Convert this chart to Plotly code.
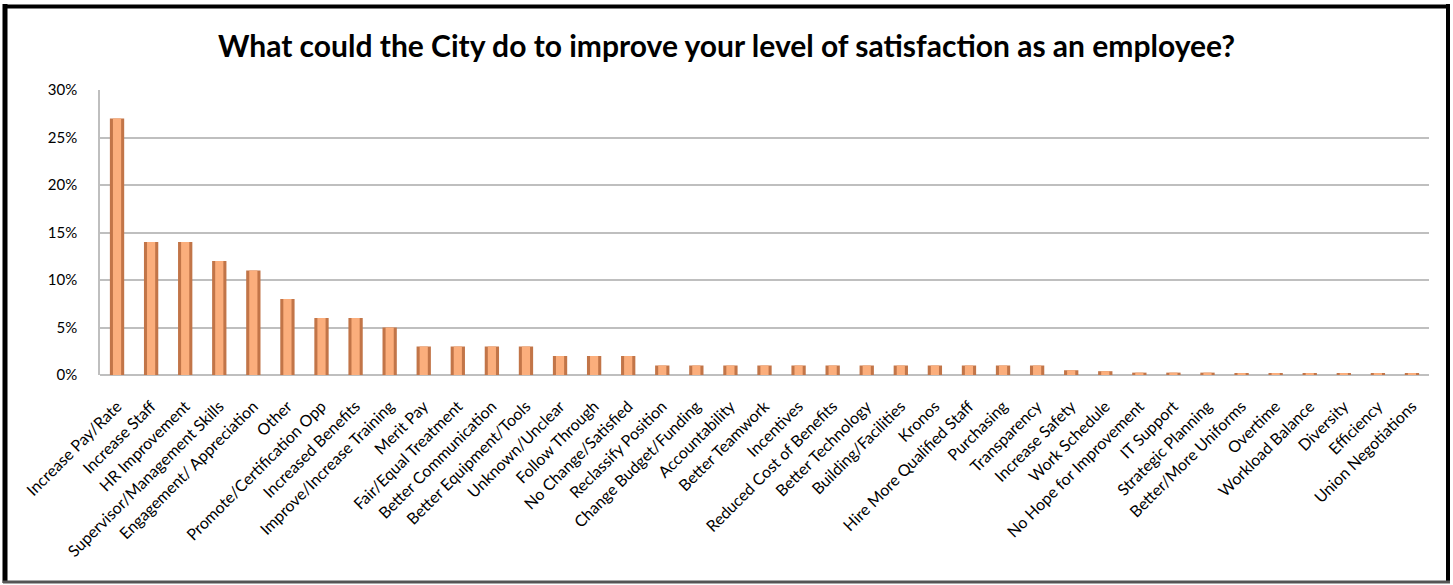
import plotly.graph_objects as go

categories = [
    "Increase Pay/Rate", "Increase Staff", "HR Improvement", "Supervisor/Management Skills",
    "Engagement/ Appreciation", "Other", "Promote/Certification Opp", "Increased Benefits",
    "Improve/Increase Training", "Merit Pay", "Fair/Equal Treatment", "Better Communication",
    "Better Equipment/Tools", "Unknown/Unclear", "Follow Through", "No Change/Satisfied",
    "Reclassify Position", "Change Budget/Funding", "Accountability", "Better Teamwork",
    "Incentives", "Reduced Cost of Benefits", "Better Technology", "Building/Facilities",
    "Kronos", "Hire More Qualified Staff", "Purchasing", "Transparency", "Increase Safety",
    "Work Schedule", "No Hope for Improvement", "IT Support", "Strategic Planning",
    "Better/More Uniforms", "Overtime", "Workload Balance", "Diversity", "Efficiency",
    "Union Negotiations",
]
values = [
    27, 14, 14, 12, 11, 8, 6, 6, 5, 3, 3, 3, 3, 2, 2, 2, 1, 1, 1, 1, 1, 1, 1, 1, 1, 1, 1, 1,
    0.5, 0.4, 0.25, 0.25, 0.25, 0.15, 0.15, 0.15, 0.15, 0.15, 0.15,
]
title_text = "What could the City do to improve your level of satisfaction as an employee?"

W, H = 1453, 585
ML, MR, MT, MB = 100, 24, 90, 210
PW, PH = W - ML - MR, H - MT - MB

FONT = "Lato"

fig = go.Figure()
fig.add_trace(go.Bar(
    x=categories, y=values, width=0.42,
    marker=dict(color="#C27548", line=dict(width=0)),
    hoverinfo="x+y", showlegend=False,
))
fig.add_trace(go.Bar(
    x=categories, y=values, width=0.24,
    marker=dict(color="#FBAE7C", line=dict(width=0)),
    hoverinfo="skip", showlegend=False,
))


def px_x(p):
    return (p - ML) / PW


def px_y(p):
    return (MT + PH - p) / PH


shapes = [
    dict(type="line", xref="paper", yref="paper", x0=px_x(5), x1=px_x(5), y0=px_y(4), y1=px_y(583),
         line=dict(color="black", width=5)),
    dict(type="line", xref="paper", yref="paper", x0=px_x(3), x1=px_x(1450), y0=px_y(6.5), y1=px_y(6.5),
         line=dict(color="black", width=4)),
    dict(type="line", xref="paper", yref="paper", x0=px_x(1448), x1=px_x(1448), y0=px_y(4), y1=px_y(583),
         line=dict(color="black", width=4)),
    dict(type="line", xref="paper", yref="paper", x0=px_x(3), x1=px_x(1450), y0=px_y(582), y1=px_y(582),
         line=dict(color="#555555", width=3)),
]

fig.update_layout(
    width=W, height=H,
    margin=dict(l=ML, r=MR, t=MT, b=MB, autoexpand=False),
    paper_bgcolor="white", plot_bgcolor="white",
    barmode="overlay",
    title=dict(text=title_text, x=0.5, xref="container", xanchor="center", y=1 - 46 / H, yanchor="middle",
               font=dict(family=FONT, size=30, color="black", weight="bold")),
    xaxis=dict(tickangle=-45, tickfont=dict(family=FONT, size=16, color="black"),
               showgrid=False, showline=False, ticks="", categoryorder="array",
               categoryarray=categories, range=[-0.5, len(categories) - 0.5],
               ticklabelstandoff=18),
    yaxis=dict(range=[0, 30], dtick=5, ticksuffix="%", showgrid=True, gridcolor="#BFBFBF",
               gridwidth=1.5, zeroline=True, zerolinecolor="#BFBFBF", zerolinewidth=1.5,
               showline=True, linecolor="#BFBFBF", linewidth=1.5,
               tickfont=dict(family=FONT, size=15, color="black"), ticks="", ticklabelstandoff=18),
    shapes=shapes,
    font=dict(family=FONT),
)

fig.write_html("out.html", config={"displayModeBar": False},
               post_script="document.body.style.margin='0';document.body.style.overflow='hidden';")
